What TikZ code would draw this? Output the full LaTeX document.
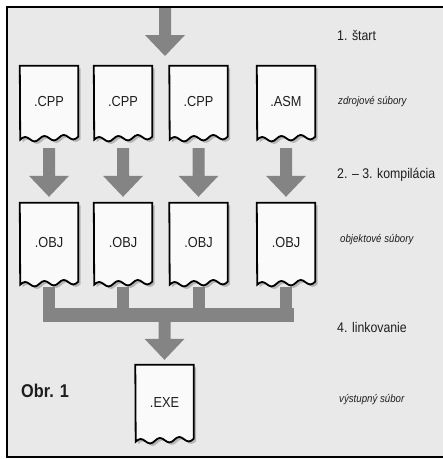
\documentclass[tikz,border=0pt]{standalone}
\usepackage{fontspec}
\setmainfont{Liberation Sans}
\newfontfamily\narrowfont[FakeStretch=0.88]{Liberation Sans}
\usetikzlibrary{shadows,calc}
\pgfdeclarelayer{bglayer}
\pgfdeclarelayer{doclayer}
\pgfsetlayers{bglayer,doclayer,main}
\definecolor{bgc}{HTML}{E9E9E9}
\definecolor{arrowc}{HTML}{848484}
\definecolor{inkc}{HTML}{1E1E1E}
\definecolor{paperc}{HTML}{FAFAFA}
\tikzset{
  docbox/.style={minimum width=58pt, inner sep=0pt, draw=none, text=inkc,
    font=\narrowfont\fontsize{14.5}{15}\selectfont},
  docline/.style={draw=black, line width=1.8pt, fill=paperc, line join=miter,
    drop shadow={shadow xshift=2.5pt, shadow yshift=-2.5pt, fill=black!45, opacity=0.55}},
  arrowfill/.style={fill=arrowc},
  steplabel/.style={anchor=west, inner sep=0pt, text=inkc,
    font=\narrowfont\fontsize{14}{15}\selectfont},
  kindlabel/.style={anchor=west, inner sep=0pt, text=inkc,
    font=\narrowfont\itshape\fontsize{11}{12}\selectfont},
}
\newcommand\docshape[1]{%
  \path[docline] (#1.north west) -- (#1.north east) -- ([yshift=1.5pt]#1.south east)
    sin ++(-4.833,2.75) cos ++(-4.833,-2.25) sin ++(-4.833,-2.25) cos ++(-4.833,2.75)
    sin ++(-4.833,2.75) cos ++(-4.833,-2.25) sin ++(-4.833,-2.25) cos ++(-4.833,2.75)
    sin ++(-4.833,2.75) cos ++(-4.833,-2.25) sin ++(-4.833,-2.25) cos ++(-4.833,2.75)
    -- cycle;}
\newcommand\blockarrow[2]{%
  \fill[arrowfill] let \p1=(#1), \p2=(#2) in
    (\x2-6pt,\y1) -- (\x2+6pt,\y1) -- (\x2+6pt,\y2+21pt) -- (\x2+20pt,\y2+21pt)
    -- (\x2,\y2) -- (\x2-20pt,\y2+21pt) -- (\x2-6pt,\y2+21pt) -- cycle;}
\begin{document}
\begin{tikzpicture}[x=1pt,y=-1pt]
\useasboundingbox (0,0) rectangle (443,459);
% frame and background
\begin{pgfonlayer}{bglayer}
\fill[bgc] (7,7) rectangle (443,457);
\draw[line width=2.2pt] (443,7) -- (6,7);
\draw[line width=2.8pt] (7,6) -- (7,458);
\draw[line width=2.2pt] (6,457) -- (443,457);
\end{pgfonlayer}

% source files
\node[docbox, minimum height=72pt] (c1) at (49,102) {.CPP};
\node[docbox, minimum height=72pt] (c2) at (123,102) {.CPP};
\node[docbox, minimum height=72pt] (c3) at (198.5,102) {.CPP};
\node[docbox, minimum height=72pt] (c4) at (286,102) {.ASM};
% object files
\node[docbox, minimum height=80pt] (o1) at (49,243) {.OBJ};
\node[docbox, minimum height=80pt] (o2) at (123,243) {.OBJ};
\node[docbox, minimum height=80pt] (o3) at (198.5,243) {.OBJ};
\node[docbox, minimum height=80pt] (o4) at (286,243) {.OBJ};
% executable
\node[docbox, minimum height=75pt] (exe) at (164.5,402.5) {.EXE};

\begin{pgfonlayer}{doclayer}
\foreach \n in {c1,c2,c3,c4,o1,o2,o3,o4,exe} {\docshape{\n}}
\end{pgfonlayer}

% start arrow
\coordinate (src) at (165,8);
\coordinate (tip) at (165,56);
\blockarrow{src}{tip}
% compile arrows
\foreach \i in {1,2,3,4} {\blockarrow{[yshift=-10pt]c\i.south}{[yshift=6pt]o\i.north}}
% link collector
\foreach \i in {1,2,3,4} {\fill[arrowfill] ([xshift=-6pt,yshift=-4pt]o\i.south) rectangle ([xshift=6pt,yshift=-39pt]o\i.south);}
\fill[arrowfill] ([xshift=-6pt,yshift=-25pt]o1.south) rectangle ([xshift=8pt,yshift=-39pt]o4.south);
\blockarrow{[yshift=-38pt]o2.south}{[yshift=5pt]exe.north}

% labels
\node[steplabel] (l1) at (337,35) {1. štart};
\node[kindlabel] (k1) at (338,102) {zdrojové súbory};
\node[steplabel] (l2) at (337,175) {2. – 3. kompilácia};
\node[kindlabel] (k2) at (340,240) {objektové súbory};
\node[steplabel] (l3) at (337,327) {4. linkovanie};
\node[kindlabel] (k3) at (339,400) {výstupný súbor};
\node[anchor=west, inner sep=0pt, text=inkc, font=\narrowfont\bfseries\fontsize{18.5}{19}\selectfont] (obr) at (21,391) {Obr. 1};
\end{tikzpicture}
\end{document}
